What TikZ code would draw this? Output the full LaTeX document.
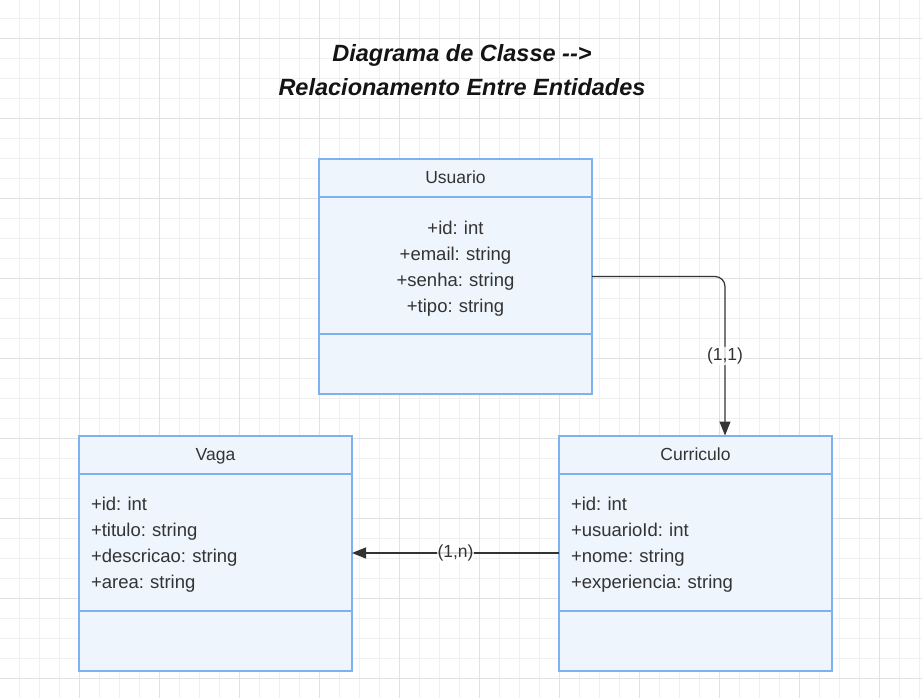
\documentclass[tikz,border=0pt]{standalone}
\usepackage{fontspec}
\setmainfont{Liberation Sans}
\usetikzlibrary{arrows.meta,positioning}
\frenchspacing

\definecolor{boxfill}{HTML}{EEF5FD}
\definecolor{boxline}{HTML}{7EB2EE}
\definecolor{ink}{HTML}{333333}
\definecolor{gridlo}{HTML}{F0F0F0}
\definecolor{gridhi}{HTML}{E2E2E2}

\tikzset{
  classbox/.style={draw=boxline, fill=boxfill, line width=2pt, minimum width=273pt, minimum height=235pt, inner sep=0pt, outer sep=0pt},
  classhead/.style={minimum width=273pt, minimum height=38pt, inner sep=0pt, outer sep=0pt, text height=15pt, text depth=3pt, text=ink, font=\fontsize{17.5}{20}\selectfont},
  classattr/.style={minimum width=273pt, minimum height=137pt, inner sep=0pt, outer sep=0pt, text width=249pt, text=ink, font=\fontsize{18.5}{26}\selectfont, execute at begin node=\rule{0pt}{19.5pt}},
  sepline/.style={draw=boxline, line width=2pt},
  relation/.style={draw=ink, line width=1.2pt, -{Triangle[length=14pt,width=11pt]}},
  card/.style={fill=white, fill opacity=0.8, text opacity=1, inner sep=1pt, text=ink, font=\fontsize{17.5}{20}\selectfont},
}

\begin{document}
\begin{tikzpicture}[x=1pt, y=1pt]
  \useasboundingbox (0,0) rectangle (922,-698);
  \fill[white] (0,0) rectangle (922,-698);
  % grid paper
  \draw[gridlo, line width=0.8pt, step=20, shift={(19.5,-18)}] (-19.5,-680) grid (902.5,18);
  \draw[gridhi, line width=0.8pt, step=80, shift={(79.5,-38)}] (-79.5,-660) grid (842.5,38);

  \node[font=\fontsize{23.5}{34}\selectfont\bfseries\itshape, align=center, text=black!92] (title) at (462,-70)
    {Diagrama de Classe -{}->\\Relacionamento Entre Entidades};

  % Usuario
  \node[classbox] (usuario) at (455.5,-276.5) {};
  \node[classhead, below=0pt of usuario.north] (usuario-head) {Usuario};
  \node[classattr, below=0pt of usuario-head, align=center] (usuario-attr)
    {+id: int\\+email: string\\+senha: string\\+tipo: string};
  \draw[sepline] (usuario-head.south west) -- (usuario-head.south east);
  \draw[sepline] (usuario-attr.south west) -- (usuario-attr.south east);

  % Vaga
  \node[classbox] (vaga) at (215.5,-553) {};
  \node[classhead, below=0pt of vaga.north] (vaga-head) {Vaga};
  \node[classattr, below=0pt of vaga-head, align=left] (vaga-attr)
    {+id: int\\+titulo: string\\+descricao: string\\+area: string};
  \draw[sepline] (vaga-head.south west) -- (vaga-head.south east);
  \draw[sepline] (vaga-attr.south west) -- (vaga-attr.south east);

  % Curriculo
  \node[classbox] (curriculo) at (695.5,-553) {};
  \node[classhead, below=0pt of curriculo.north] (curriculo-head) {Curriculo};
  \node[classattr, below=0pt of curriculo-head, align=left] (curriculo-attr)
    {+id: int\\+usuarioId: int\\+nome: string\\+experiencia: string};
  \draw[sepline] (curriculo-head.south west) -- (curriculo-head.south east);
  \draw[sepline] (curriculo-attr.south west) -- (curriculo-attr.south east);

  % relations
  \draw[relation, rounded corners=10pt] (usuario.east) -| node[card, pos=0.75] {(1,1)} ([xshift=29.5pt]curriculo.north);
  \draw[relation] (curriculo) -- node[card] {(1,n)} (vaga);
\end{tikzpicture}
\end{document}
